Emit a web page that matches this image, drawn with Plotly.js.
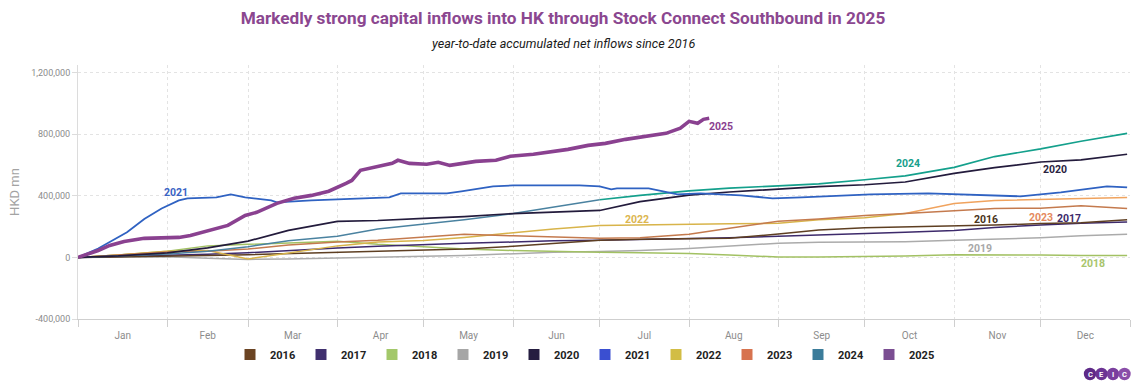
<!DOCTYPE html>
<html>
<head>
<meta charset="utf-8">
<script src="https://cdn.plot.ly/plotly-3.0.1.min.js"></script>
<style>
  html, body { margin: 0; padding: 0; background: #ffffff; }
  #chart { width: 1140px; height: 389px; }
</style>
</head>
<body>
<div id="chart"></div>
<script>
// ---------------- DATA (HKD mn, year-to-date accumulated net inflows) ----------------
const REF_YEAR = 2025; // axis reference year (day-of-year axis)

const gridDates = ['01-01','01-15','02-01','02-15','03-01','03-15','04-01','04-15','05-01','05-15',
                   '06-01','06-15','07-01','07-15','08-01','08-15','09-01','09-15','10-01','10-15',
                   '11-01','11-15','12-01','12-15','12-31'];

const y2016 = [0,3000,8000,12000,18000,25000,33000,40000,47000,55000,72000,90000,112000,118000,120000,125000,152000,178000,192000,197000,205000,210000,220000,225000,245000];
const y2017 = [0,5000,12000,20000,30000,45000,62000,72000,85000,92000,100000,108000,111000,115000,122000,128000,138000,145000,156000,163000,175000,195000,210000,222000,230000];
const y2018 = [0,15000,40000,75000,85000,95000,105000,85000,68000,55000,45000,38000,33000,30000,25000,15000,3000,2000,5000,10000,18000,18000,15000,12000,13000];
const y2019 = [0,3000,5000,-5000,-13000,-10000,-2000,3000,8000,13000,25000,33000,39000,45000,58000,75000,92000,98000,98000,102000,111000,118000,128000,140000,150000];
const y2020 = [0,10000,30000,62000,106000,176000,234000,240000,254000,265000,285000,295000,305000,362000,405000,425000,445000,460000,472000,490000,546000,583000,620000,634000,670000];
const y2022 = [0,15000,40000,45000,-10000,30000,75000,100000,110000,130000,160000,185000,208000,210000,212000,218000,222000,245000,258000,285000,350000,370000,377000,380000,390000];
const y2023 = [0,15000,35000,40000,55000,80000,100000,111000,130000,150000,140000,135000,125000,128000,150000,190000,235000,250000,273000,285000,305000,318000,320000,335000,318000];
const y2024 = [0,8000,22000,40000,70000,108000,137000,185000,218000,245000,285000,325000,375000,403000,432000,450000,465000,478000,505000,530000,585000,655000,705000,755000,806000];

const dates2021 = ['01-01','01-08','01-18','01-24','01-30','02-05','02-08','02-18','02-23','02-28','03-09','03-11','03-23',
                   '04-04','04-19','04-23','05-09','05-14','05-25','06-01','06-24','07-01','07-05','07-07','07-18','07-28',
                   '08-05','08-19','08-30','09-09','09-26','10-03','10-23','11-14','11-24','12-08','12-24','12-31'];
const y2021 = [0,58000,163000,250000,318000,370000,384000,390000,410000,390000,370000,358000,370000,
               377000,390000,416000,416000,429000,462000,468000,468000,462000,442000,449000,449000,410000,
               416000,403000,384000,390000,403000,410000,416000,403000,397000,423000,462000,455000];

const dates2025 = ['01-01','01-08','01-12','01-17','01-24','02-05','02-09','02-19','02-22','02-28','03-04','03-11','03-17',
                   '03-23','03-29','04-04','04-06','04-09','04-15','04-20','04-22','04-26','05-02','05-06','05-10','05-19',
                   '05-26','05-31','06-08','06-20','06-27','07-03','07-10','07-18','07-24','07-29','08-01','08-04','08-06','08-08'];
const y2025 = [0,45000,78000,104000,124000,130000,143000,189000,208000,273000,293000,351000,384000,
               403000,430000,481000,500000,566000,592000,611000,631000,611000,605000,618000,598000,624000,
               631000,657000,670000,702000,728000,741000,767000,787000,806000,839000,884000,871000,897000,904000];

const seriesNames = ['2016','2017','2018','2019','2020','2021','2022','2023','2024','2025'];

// in-chart series labels: [name, month-day, value]
const labelNames  = ['2021','2025','2024','2020','2022','2016','2023','2017','2019','2018'];
const labelDates  = ['02-04','08-12','10-16','12-06','07-14','11-12','12-01','12-11','11-10','12-19'];
const labelValues = [423000,852000,611000,572000,247000,247000,258000,254000,59000,-39000];

const yTickVals = [-400000,0,400000,800000,1200000];
const yTickText = ['-400,000','0','400,000','800,000','1,200,000'];

// ---------------- STYLE ----------------
const lineColors = {
  '2016':'#5e3f22','2017':'#3d2a6b','2018':'#a2c163','2019':'#ababab','2020':'#231b3c',
  '2021':'#2f62c2','2022':'#d8b44a','2023':'#c47a4e','2024':'#4a82a0','2025':'#8a4190'
};
const legendColors = {
  '2016':'#6b4423','2017':'#40306e','2018':'#a3c86a','2019':'#a6a6a6','2020':'#251d40',
  '2021':'#3a4fd1','2022':'#d2bd45','2023':'#d7734f','2024':'#3b7c9a','2025':'#7b4e92'
};
const labelColors = {
  '2021':'#3a64c4','2025':'#8a4190','2024':'#17a08c','2020':'#2a2340','2022':'#dcb650',
  '2016':'#4a3520','2023':'#e58a60','2017':'#3d2a6b','2019':'#a8a8a8','2018':'#a8c56c'
};
const NARROW = '"Liberation Sans Narrow", "Roboto", sans-serif';

const d = md => REF_YEAR + '-' + md;
const gx = gridDates.map(d);

const traces = [];
function lineTrace(x, y, color, width, name) {
  return {type:'scatter', mode:'lines', x:x, y:y, name:name, showlegend:false,
          line:{color:color, width:width, shape:'linear'}, hoverinfo:'skip'};
}
// thin series (draw order: lower years first)
traces.push(lineTrace(gx, y2019, lineColors['2019'], 1.5, '2019'));
traces.push(lineTrace(gx, y2018, lineColors['2018'], 1.5, '2018'));
traces.push(lineTrace(gx, y2017, lineColors['2017'], 1.5, '2017'));
traces.push(lineTrace(gx, y2016, lineColors['2016'], 1.5, '2016'));
traces.push(lineTrace(gx.slice(0,20), y2022.slice(0,20), lineColors['2022'], 1.5, '2022'));
traces.push(lineTrace(gx.slice(19), y2022.slice(19), '#f0a35e', 1.5, '2022'));
traces.push(lineTrace(gx, y2023, lineColors['2023'], 1.5, '2023'));
traces.push(lineTrace(gx.slice(0,13), y2024.slice(0,13), lineColors['2024'], 1.5, '2024'));
traces.push(lineTrace(gx.slice(12), y2024.slice(12), '#14a08c', 1.6, '2024'));
traces.push(lineTrace(gx, y2020, lineColors['2020'], 1.7, '2020'));
traces.push(lineTrace(dates2021.map(d), y2021, lineColors['2021'], 1.8, '2021'));
traces.push(lineTrace(dates2025.map(d), y2025, lineColors['2025'], 3.6, '2025'));

// legend entries (square swatches)
seriesNames.forEach(n => {
  traces.push({type:'scatter', mode:'markers', x:[null], y:[null], name:n, showlegend:true,
               marker:{symbol:'square', size:11, color:legendColors[n]}, hoverinfo:'skip'});
});

const annotations = labelNames.map((n, i) => ({
  xref:'x', yref:'y', x:d(labelDates[i]), y:labelValues[i], text:n, showarrow:false,
  font:{family:NARROW, size:10.5, color:labelColors[n], weight:'bold'}
}));
// subtitle
annotations.push({
  xref:'paper', yref:'paper', x:(563-78)/1052, y:(319-44)/254, xanchor:'center', yanchor:'middle',
  text:'year-to-date accumulated net inflows since 2016', showarrow:false,
  font:{family:NARROW, size:12.6, color:'#1a1a1a', style:'italic'}
});

// CEIC logo: circles + letters
const logoX = [1090, 1101.5, 1113, 1124.5];
const logoCol = ['#5e2a88','#6c3494','#7a3f9e','#8a4ea9'];
const logoTxt = ['C','E','I','C'];
const shapes = [];
logoX.forEach((px, i) => {
  const xp = (px - 78) / 1052, yp = (319 - 374) / 254;
  shapes.push({type:'circle', xref:'paper', yref:'paper', xsizemode:'pixel', ysizemode:'pixel',
               xanchor:xp, yanchor:yp, x0:-6.2, x1:6.2, y0:-6.2, y1:6.2,
               fillcolor:logoCol[i], line:{width:0}});
  annotations.push({xref:'paper', yref:'paper', x:xp, y:yp, xanchor:'center', yanchor:'middle',
                    text:logoTxt[i], showarrow:false,
                    font:{family:'Roboto', size:7.5, color:'#ffffff', weight:'bold'}});
});

const layout = {
  width:1140, height:389,
  margin:{l:78, r:10, t:65, b:70, pad:0},
  paper_bgcolor:'#ffffff', plot_bgcolor:'#ffffff',
  font:{family:'Roboto, sans-serif', color:'#8c8c8c'},
  title:{
    text:'Markedly strong capital inflows into HK through Stock Connect Southbound in 2025',
    font:{family:NARROW, size:17.2, color:'#8b4790', weight:'bold'},
    x:563/1140, xanchor:'center', xref:'container',
    y:1 - 18/389, yanchor:'middle', yref:'container'
  },
  xaxis:{
    type:'date', range:[REF_YEAR + '-01-01', (REF_YEAR + 1) + '-01-01'],
    tick0:REF_YEAR + '-01-01', dtick:'M1', tickformat:'%b', ticklabelmode:'period',
    showgrid:true, gridcolor:'#e3e3e3', griddash:'dot', gridwidth:1,
    showline:true, linecolor:'#cfcfcf', linewidth:1,
    ticks:'outside', ticklen:7, tickcolor:'#cfcfcf',
    tickfont:{size:10, color:'#8c8c8c'}, zeroline:false, fixedrange:true
  },
  yaxis:{
    range:[-400000, 1250000], tickvals:yTickVals, ticktext:yTickText,
    showgrid:true, gridcolor:'#e3e3e3', griddash:'dot', gridwidth:1,
    showline:true, linecolor:'#dcdcdc', linewidth:1,
    ticks:'outside', ticklen:5, tickcolor:'#dcdcdc',
    tickfont:{size:9, color:'#8c8c8c'}, zeroline:false,
    title:{text:'HKD mn', font:{size:13, color:'#a3a3a3'}, standoff:8}, fixedrange:true
  },
  legend:{
    orientation:'h', x:(230-78)/1052, xanchor:'left', y:(319-340)/254, yanchor:'top',
    font:{family:NARROW, size:11, color:'#222222', weight:'bold'},
    entrywidth:26, entrywidthmode:'pixels', itemwidth:30, tracegroupgap:0,
    bgcolor:'rgba(0,0,0,0)'
  },
  annotations:annotations,
  shapes:shapes,
  showlegend:true,
  hovermode:false
};

Plotly.newPlot('chart', traces, layout, {displayModeBar:false, staticPlot:true});
</script>
</body>
</html>
